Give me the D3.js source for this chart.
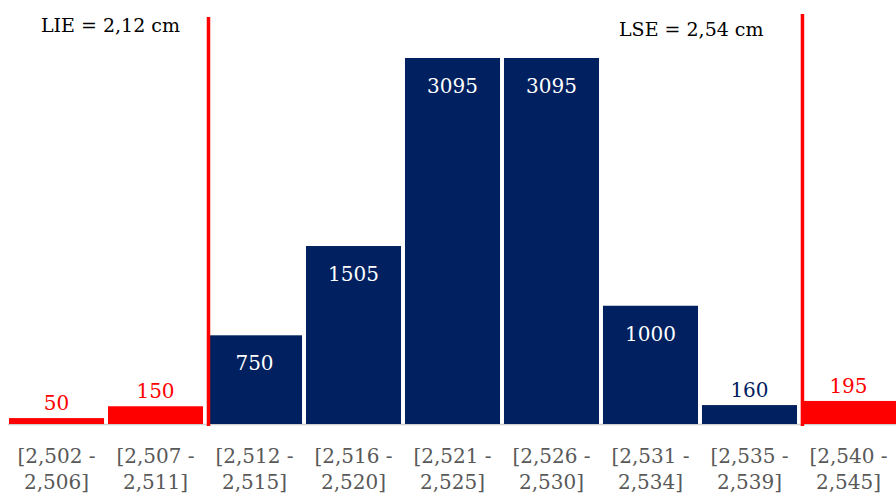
<!DOCTYPE html>
<html>
<head>
<meta charset="utf-8">
<script src="https://cdn.jsdelivr.net/npm/d3@7"></script>
<style>
  html, body { margin: 0; padding: 0; background: #fff; }
  svg { display: block; font-family: "DejaVu Serif", "Liberation Serif", serif; }
</style>
</head>
<body>
<svg id="chart" width="896" height="495"></svg>
<script>
// Class intervals (two-line labels) and frequency counts
const classStart = ["[2,502 -", "[2,507 -", "[2,512 -", "[2,516 -", "[2,521 -", "[2,526 -", "[2,531 -", "[2,535 -", "[2,540 -"];
const classEnd   = ["2,506]", "2,511]", "2,515]", "2,520]", "2,525]", "2,530]", "2,534]", "2,539]", "2,545]"];
const counts     = [50, 150, 750, 1505, 3095, 3095, 1000, 160, 195];
// Whether each class falls outside the specification limits
const outOfSpec  = [true, true, false, false, false, false, false, false, true];
// Specification limits: label and the class index the limit line sits before
const limitLabels = ["LIE = 2,12 cm", "LSE = 2,54 cm"];
const limitBefore = [2, 8];

const svg = d3.select("#chart");
const W = 896, baseY = 424, topY = 58;
const RED = "#ff0000", NAVY = "#002060";

const idx = d3.range(counts.length);
const x = d3.scaleBand().domain(idx).range([9, 896]).paddingInner(0.04).paddingOuter(0);
const y = d3.scaleLinear().domain([0, d3.max(counts)]).range([baseY, topY]);

// baseline
svg.append("line")
  .attr("x1", 8).attr("x2", W).attr("y1", baseY + 0.5).attr("y2", baseY + 0.5)
  .attr("stroke", "#d0d0d0").attr("stroke-width", 1.5);

// bars
svg.selectAll("rect.bar").data(idx).join("rect")
  .attr("class", "bar")
  .attr("x", i => x(i))
  .attr("y", i => y(counts[i]))
  .attr("width", x.bandwidth())
  .attr("height", i => baseY - y(counts[i]))
  .attr("fill", i => outOfSpec[i] ? RED : NAVY);

// value labels: inside the bar when it is tall enough, otherwise above it
const inside = i => baseY - y(counts[i]) >= 44;
svg.selectAll("text.val").data(idx).join("text")
  .attr("class", "val")
  .attr("x", i => x(i) + x.bandwidth() / 2)
  .attr("y", i => inside(i) ? y(counts[i]) + 35 : y(counts[i]) - 8)
  .attr("text-anchor", "middle")
  .attr("font-size", 20)
  .attr("fill", i => inside(i) ? "#ffffff" : (outOfSpec[i] ? RED : NAVY))
  .text(i => counts[i]);

// category labels (two lines)
const cat = svg.selectAll("text.cat").data(idx).join("text")
  .attr("class", "cat")
  .attr("text-anchor", "middle")
  .attr("font-size", 20)
  .attr("fill", "#595959");
cat.append("tspan").attr("x", i => x(i) + x.bandwidth() / 2).attr("y", 463).text(i => classStart[i]);
cat.append("tspan").attr("x", i => x(i) + x.bandwidth() / 2).attr("y", 489).text(i => classEnd[i]);

// specification limit lines, drawn just over the left edge of the next class
const limitX = limitBefore.map(i => x(i) + 1.5);
const limitTop = [17, 14];
svg.selectAll("line.limit").data([0, 1]).join("line")
  .attr("class", "limit")
  .attr("x1", k => limitX[k]).attr("x2", k => limitX[k])
  .attr("y1", k => limitTop[k]).attr("y2", baseY + 2)
  .attr("stroke", RED).attr("stroke-width", 3.5);

// limit captions
const capX = [41, 619], capY = [32, 36];
svg.selectAll("text.cap").data([0, 1]).join("text")
  .attr("class", "cap")
  .attr("x", k => capX[k]).attr("y", k => capY[k])
  .attr("font-size", 19)
  .attr("fill", "#000")
  .text(k => limitLabels[k]);
</script>
</body>
</html>
